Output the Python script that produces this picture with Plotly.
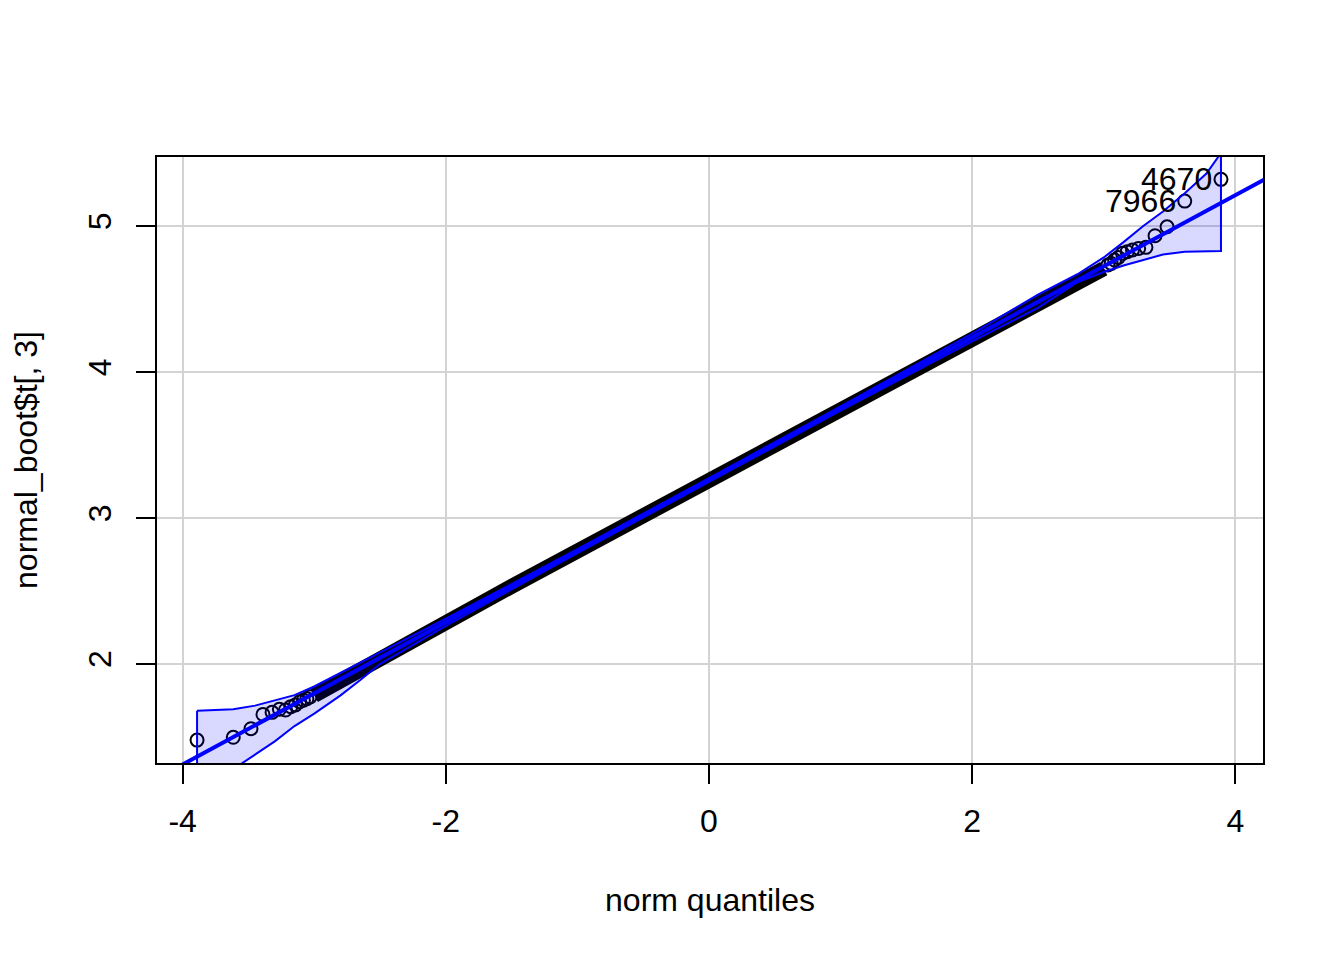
import plotly.graph_objects as go

# ---- data ----
# fitted reference line (robust line through quartiles)
line_intercept = 3.262
line_slope = 0.4875

# individual tail points: theoretical norm quantile, sample value
lower_tail_q = [-3.8906, -3.6153, -3.4808, -3.3896, -3.3205, -3.2649, -3.2183,
                -3.1781, -3.1427, -3.1110, -3.0824, -3.0560, -3.0315]
lower_tail_y = [1.479, 1.498, 1.557, 1.655, 1.669, 1.690, 1.685,
                1.708, 1.720, 1.742, 1.752, 1.762, 1.775]
upper_tail_q = [3.0315, 3.0560, 3.0824, 3.1110, 3.1427, 3.1781, 3.2183,
                3.2649, 3.3205, 3.3896, 3.4808, 3.6153, 3.8906]
upper_tail_y = [4.733, 4.744, 4.767, 4.785, 4.813, 4.824, 4.836,
                4.847, 4.854, 4.934, 4.995, 5.171, 5.320]

# dense bulk of points (thousands of overlapping circles), read along the band
bulk_q = [-3.0, -2.75, -2.5, -2.25, -2.0, -1.75, -1.5, -1.25, -1.0, -0.75, -0.5,
          -0.25, 0.0, 0.25, 0.5, 0.75, 1.0, 1.25, 1.5, 1.75, 2.0, 2.25, 2.5,
          2.75, 3.0]
bulk_y = [1.785, 1.915, 2.045, 2.165, 2.285, 2.408, 2.532, 2.652, 2.773, 2.895,
          3.017, 3.139, 3.262, 3.384, 3.505, 3.627, 3.749, 3.871, 3.993, 4.114,
          4.236, 4.356, 4.474, 4.592, 4.708]

# 95% confidence envelope
env_q = [-3.8906, -3.6153, -3.45, -3.30, -3.15, -3.0, -2.8, -2.65, -2.5, -2.0,
         -1.0, 0.0, 1.0, 2.0, 2.5, 2.8, 3.0, 3.15, 3.30, 3.45, 3.6153, 3.78, 3.8906]
env_upper = [1.680, 1.690, 1.715, 1.752, 1.787, 1.846, 1.940, 2.010, 2.080, 2.310,
             2.787, 3.274, 3.764, 4.263, 4.530, 4.670, 4.785, 4.890, 5.000,
             5.100, 5.225, 5.360, 5.500]
env_lower = [1.020, 1.280, 1.377, 1.470, 1.575, 1.660, 1.785, 1.890, 2.000, 2.262,
             2.760, 3.250, 3.735, 4.210, 4.440, 4.615, 4.685, 4.730, 4.767,
             4.805, 4.824, 4.828, 4.829]

# labelled extreme points
label_ids = ["4670", "7966"]
label_q = [3.8906, 3.6153]
label_y = [5.320, 5.171]

x_ticks = [-4, -2, 0, 2, 4]
y_ticks = [2, 3, 4, 5]
x_range = [-4.195, 4.21]
y_range = [1.322, 5.473]

FONT = "Liberation Sans, Arial, sans-serif"
FS = 32

fig = go.Figure()

# dense band of points
fig.add_trace(go.Scatter(x=bulk_q, y=bulk_y, mode="lines",
                         line=dict(color="black", width=15),
                         hoverinfo="skip", showlegend=False))
# individual tail points
pts_q = lower_tail_q + upper_tail_q
pts_y = lower_tail_y + upper_tail_y
fig.add_trace(go.Scatter(x=pts_q, y=pts_y, mode="markers",
                         marker=dict(symbol="circle-open", size=13,
                                     color="black", line=dict(width=2, color="black")),
                         showlegend=False))
# reference line
lx = [x_range[0] - 1, x_range[1] + 1]
fig.add_trace(go.Scatter(x=lx, y=[line_intercept + line_slope * v for v in lx],
                         mode="lines", line=dict(color="blue", width=4),
                         showlegend=False))
# envelope polygon
poly_x = env_q + env_q[::-1] + [env_q[0]]
poly_y = env_upper + env_lower[::-1] + [env_upper[0]]
fig.add_trace(go.Scatter(x=poly_x, y=poly_y, mode="lines", fill="toself",
                         fillcolor="rgba(0,0,255,0.15)",
                         line=dict(color="blue", width=2),
                         showlegend=False))

for lid, q, y in zip(label_ids, label_q, label_y):
    fig.add_annotation(x=q, y=y, text=lid, showarrow=False,
                       xanchor="right", yanchor="middle", xshift=-7,
                       font=dict(family=FONT, size=FS, color="black"))

axis_common = dict(showline=True, linecolor="black", linewidth=2, mirror=True,
                   ticks="outside", ticklen=19, tickwidth=2, tickcolor="black",
                   showgrid=True, gridcolor="#D3D3D3", gridwidth=2,
                   zeroline=False,
                   tickfont=dict(family=FONT, size=FS, color="black"))

fig.update_layout(
    width=1344, height=960,
    margin=dict(l=149, r=89, t=149, b=205),
    paper_bgcolor="white", plot_bgcolor="white",
    xaxis=dict(range=x_range, tickvals=x_ticks, ticktext=[str(v) for v in x_ticks],
               title=dict(text="norm quantiles", standoff=50,
                          font=dict(family=FONT, size=FS, color="black")),
               ticklabelstandoff=10,
               **axis_common),
    yaxis=dict(range=y_range, tickvals=y_ticks, ticktext=[str(v) for v in y_ticks],
               tickangle=-90,
               title=dict(text="normal_boot$t[, 3]", standoff=40,
                          font=dict(family=FONT, size=FS, color="black")),
               ticklabelstandoff=12,
               **axis_common),
)

fig.write_html("out.html")
